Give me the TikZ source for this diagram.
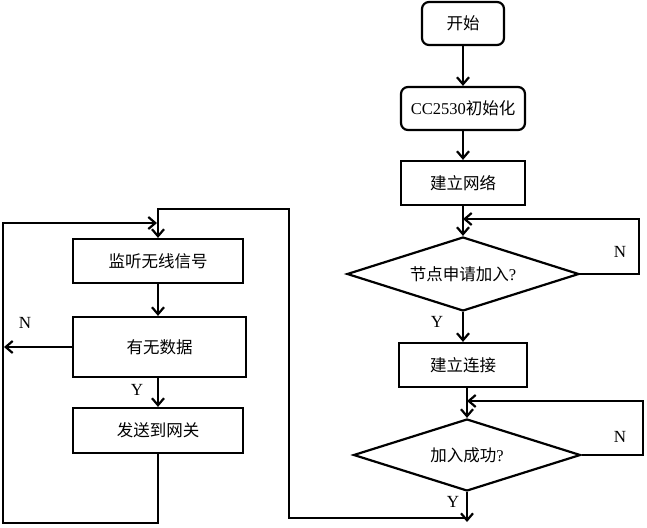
\documentclass[tikz,border=0pt]{standalone}
\usepackage{fontspec}
\setmainfont{Liberation Serif}
\newfontfamily\cjk{Noto Sans CJK SC}
\usetikzlibrary{shapes.geometric,arrows.meta}
\begin{document}
\begin{tikzpicture}[x=1pt,y=-1pt,line width=2.2pt,
  proc/.style={draw,inner sep=0pt,font=\fontsize{16.5}{19}\selectfont\cjk},
  rproc/.style={proc,rounded corners=7pt},
  dec/.style={draw,diamond,aspect=3.1,inner sep=0pt,font=\fontsize{16.5}{19}\selectfont\cjk},
  arr/.style={-{Straight Barb[length=7pt,width=12pt]}},
  lbl/.style={font=\fontsize{17}{20}\selectfont}]
\useasboundingbox (0,0) rectangle (647,527);
% right column
\node[rproc,minimum width=82pt,minimum height=43pt] (start) at (463,23.5) {开始};
\node[rproc,minimum width=124pt,minimum height=43pt] (init) at (463,108.5) {{\rmfamily CC2530}初始化};
\node[proc,minimum width=124pt,minimum height=44pt] (net) at (463,183) {建立网络};
\node[dec,minimum width=232pt,minimum height=74pt] (d1) at (463,274) {节点申请加入{\rmfamily ?}};
\node[proc,minimum width=128pt,minimum height=44pt] (conn) at (463,365) {建立连接};
\node[dec,minimum width=227pt,minimum height=72pt] (d2) at (467,455) {加入成功{\rmfamily ?}};
% left column
\node[proc,minimum width=170pt,minimum height=44pt] (listen) at (158,261) {监听无线信号};
\node[proc,minimum width=173pt,minimum height=60pt] (data) at (159.5,347) {有无数据};
\node[proc,minimum width=170pt,minimum height=45pt] (send) at (158,430.5) {发送到网关};
% helper coordinates
\coordinate (m1) at (463,219);
\coordinate (m2) at (467,401);
\coordinate (e2) at (467,522);
\coordinate (j) at (467,518);
\coordinate (l1) at (157,223);
\coordinate (l2) at (4,347);
% connectors right
\draw[arr] (start) -- (init);
\draw[arr] (init) -- (net);
\draw[arr] (net) -- (d1);
\draw[arr] (d1) -- (conn);
\draw[arr] (conn.south -| d2.north) -- (d2.north);
\draw[arr] (d1.east) -- (639,274) |- (m1);
\draw[arr] (d2.east) -- (643,455) |- (m2);
\draw[arr] (d2.south) -- (e2);
\draw[arr] (j) -| (289,209) -| (listen.north);
% connectors left
\draw[arr] (listen.south) -- (listen.south |- data.north);
\draw[arr] (send.north |- data.south) -- (send.north);
\draw[arr] (data.west) -- (l2);
\draw[arr] (send.south) |- (3,523) |- (l1);
% labels
\node[lbl] (n1) at (620,252) {N};
\node[lbl] (y1) at (437,322) {Y};
\node[lbl] (n2) at (620,437) {N};
\node[lbl] (y2) at (453,502) {Y};
\node[lbl] (n3) at (25,323) {N};
\node[lbl] (y3) at (137,390) {Y};
\end{tikzpicture}
\end{document}
